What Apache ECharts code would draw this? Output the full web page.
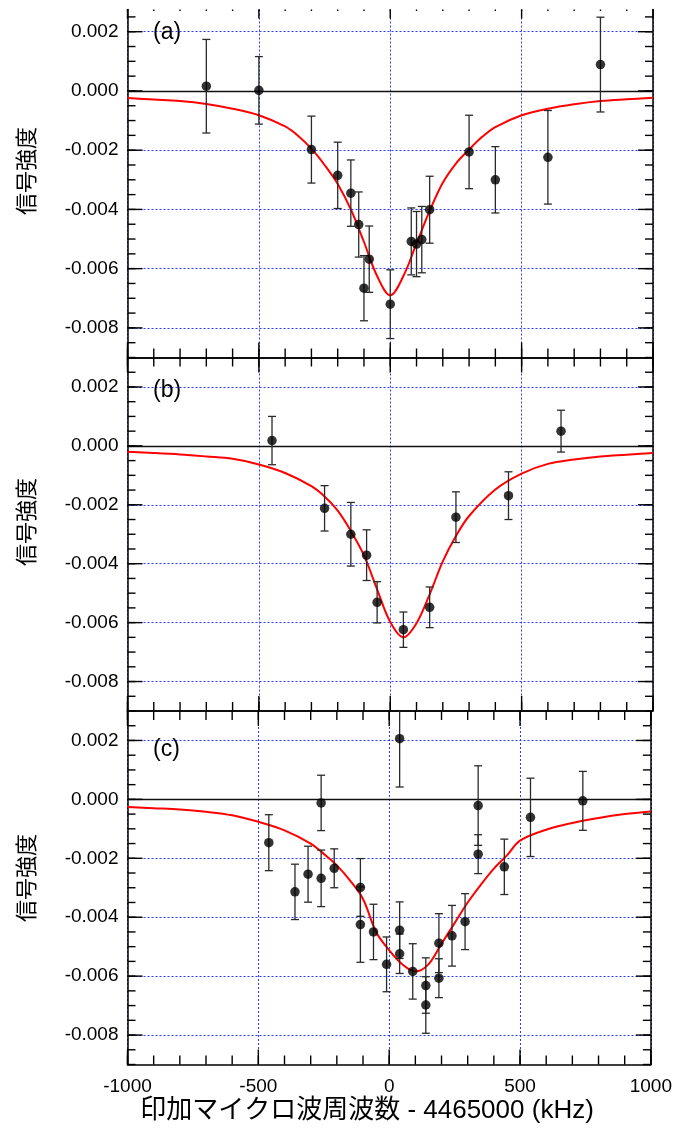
<!DOCTYPE html>
<html><head><meta charset="utf-8">
<script src="https://cdn.jsdelivr.net/npm/echarts@6/dist/echarts.min.js"></script>
<style>html,body{margin:0;padding:0;background:#fff}#c{width:675px;height:1138px}</style>
</head><body><div id="c"></div>
<script>
// ---- tick labels / axis values ----
const xTickValues = [-1000, -500, 0, 500, 1000];
const xMinorTicks = [-1000, -900, -800, -700, -600, -500, -400, -300, -200, -100, 0, 100, 200, 300, 400, 500, 600, 700, 800, 900, 1000];
const yTickValues = [-0.008, -0.006, -0.004, -0.002, 0, 0.002];
const yMinorTicks = [-0.009, -0.0085, -0.008, -0.0075, -0.007, -0.0065, -0.006, -0.0055, -0.005, -0.0045, -0.004, -0.0035, -0.003, -0.0025, -0.002, -0.0015, -0.001, -0.0005, 0, 0.0005, 0.001, 0.0015, 0.002, 0.0025];
const panelLabels = ['(a)', '(b)', '(c)'];
const yTitle = '信号強度';
const xTitle = '印加マイクロ波周波数 - 4465000 (kHz)';

// ---- panel (a) ----
const aX   = [-700, -500, -300, -200, -150, -120, -100, -80, 0, 80, 100, 120, 150, 300, 400, 600, 800];
const aY   = [0.00016, 0.00002, -0.00198, -0.00285, -0.00345, -0.00451, -0.00666, -0.00568, -0.0072, -0.00508, -0.00517, -0.00502, -0.00401, -0.00206, -0.0030, -0.00224, 0.00089];
const aErr = [0.00158, 0.00114, 0.00113, 0.00112, 0.00112, 0.0011, 0.0011, 0.00112, 0.00116, 0.00113, 0.0011, 0.00112, 0.00113, 0.00124, 0.00112, 0.00158, 0.0016];
const aFitX = [-1000, -900, -800, -700, -600, -500, -400, -350, -300, -250, -200, -150, -100, -50, 0, 50, 100, 150, 200, 250, 300, 350, 400, 500, 600, 700, 800, 900, 1000];
const aFitY = [-0.00024, -0.00029, -0.00034, -0.00044, -0.0006, -0.00082, -0.0012, -0.00152, -0.00195, -0.0025, -0.00314, -0.004, -0.0051, -0.00625, -0.0069, -0.00625, -0.00515, -0.00405, -0.0031, -0.00245, -0.00198, -0.00155, -0.00122, -0.00082, -0.0006, -0.00045, -0.00034, -0.00028, -0.00023];

// ---- panel (b) ----
const bX   = [-450, -250, -150, -90, -50, 50, 150, 250, 450, 650];
const bY   = [0.00018, -0.00212, -0.0030, -0.00371, -0.00531, -0.00624, -0.00548, -0.00242, -0.00169, 0.0005];
const bErr = [0.00082, 0.00077, 0.00108, 0.00086, 0.0007, 0.0006, 0.00069, 0.00086, 0.00081, 0.00071];
const bFitX = [-1000, -900, -800, -700, -600, -500, -400, -300, -250, -200, -150, -100, -50, 0, 50, 100, 150, 200, 250, 300, 400, 500, 600, 700, 800, 900, 1000];
const bFitY = [-0.0002, -0.00024, -0.00029, -0.00036, -0.00044, -0.00063, -0.00092, -0.00137, -0.00172, -0.0022, -0.00289, -0.00372, -0.00487, -0.00598, -0.0065, -0.00602, -0.00504, -0.00392, -0.00306, -0.00238, -0.00148, -0.00094, -0.00061, -0.00046, -0.00036, -0.0003, -0.00024];

// ---- panel (c) ----
const cX   = [-460, -360, -310, -260, -260, -210, -110, -110, -60, -10, 40, 40, 40, 90, 140, 140, 190, 190, 240, 290, 340, 340, 440, 540, 740];
const cY   = [-0.00147, -0.00314, -0.00254, -0.00012, -0.00268, -0.00234, -0.00299, -0.00425, -0.0045, -0.0056, 0.00206, -0.00444, -0.00524, -0.00584, -0.00632, -0.00698, -0.00488, -0.00607, -0.00463, -0.00415, -0.00021, -0.00186, -0.00229, -0.00061, -0.00005];
const cErr = [0.00095, 0.00094, 0.00095, 0.00094, 0.00096, 0.00066, 0.00098, 0.00128, 0.00094, 0.00093, 0.00164, 0.00096, 0.00067, 0.00094, 0.00094, 0.00096, 0.001, 0.00066, 0.00103, 0.00095, 0.00135, 0.00066, 0.00094, 0.00133, 0.001];
const cFitX = [-1000, -900, -800, -700, -600, -500, -400, -300, -250, -200, -150, -100, -50, 0, 50, 100, 150, 200, 250, 300, 350, 400, 450, 500, 600, 700, 800, 900, 1000];
const cFitY = [-0.00026, -0.0003, -0.00034, -0.00042, -0.00054, -0.00076, -0.00105, -0.0015, -0.00185, -0.00224, -0.00275, -0.00338, -0.0045, -0.00512, -0.0056, -0.00584, -0.0056, -0.0049, -0.0042, -0.0035, -0.0029, -0.00235, -0.0019, -0.0014, -0.00103, -0.0008, -0.00063, -0.0005, -0.00041];

const panels = [
  {x: aX, y: aY, e: aErr, fx: aFitX, fy: aFitY},
  {x: bX, y: bY, e: bErr, fx: bFitX, fy: bFitY},
  {x: cX, y: cY, e: cErr, fx: cFitX, fy: cFitY}
];

// ---- layout (style, not data) ----
const gridBoxes = [
  {top: 9.5, height: 348},
  {top: 357.5, height: 353.5},
  {top: 711, height: 353.5}
];
const X_MIN = -1000, X_MAX = 1000, Y_MIN = -0.009;
const yMaxes = [0.00275, 0.003, 0.003];
const labelY = [34, 392, 751];
const yTitleY = [171, 522, 878];
const FONT = "'Liberation Sans', Arial, sans-serif";
const GRIDCOL = '#2a3cff';
const GRIDDASH = [2, 2];
const TW = 1.4; // tick thickness

const grid = [], xAxis = [], yAxis = [], series = [], graphic = [];

function errRender(params, api) {
  const x = api.value(0), lo = api.value(1), hi = api.value(2);
  const pHi = api.coord([x, hi]), pLo = api.coord([x, lo]);
  const cs = params.coordSys;
  const top = cs.y, bot = cs.y + cs.height;
  const y1 = Math.max(pHi[1], top), y2 = Math.min(pLo[1], bot);
  const st = {stroke: '#2a2a2a', lineWidth: 1.3};
  const ch = [{type: 'line', shape: {x1: pHi[0], y1: y1, x2: pHi[0], y2: y2}, style: st}];
  const w = 4;
  if (pHi[1] >= top) ch.push({type: 'line', shape: {x1: pHi[0] - w, y1: pHi[1], x2: pHi[0] + w, y2: pHi[1]}, style: st});
  if (pLo[1] <= bot) ch.push({type: 'line', shape: {x1: pLo[0] - w, y1: pLo[1], x2: pLo[0] + w, y2: pLo[1]}, style: st});
  return {type: 'group', children: ch};
}

// tick marks drawn as thin rect symbols anchored on the frame through the axes' scales
function tickSeries(xi, yi, data, w, h, off) {
  return {type: 'scatter', xAxisIndex: xi, yAxisIndex: yi, data: data, symbol: 'rect',
    symbolSize: [w, h], symbolOffset: off, clip: false, silent: true, zlevel: 1, z: 20,
    itemStyle: {color: '#000', opacity: 1}, emphasis: {disabled: true}, animation: false};
}

panels.forEach((p, i) => {
  grid.push({left: 127.5, width: 525.5, top: gridBoxes[i].top, height: gridBoxes[i].height});
  const line = {show: true, onZero: false, lineStyle: {color: '#000', width: 1.5}};
  const noLine = {show: false, onZero: false};
  const isA = i === 0;
  const ymax = yMaxes[i];
  xAxis.push({gridIndex: i, type: 'value', position: 'bottom', min: X_MIN, max: X_MAX, interval: 500,
    axisLine: line, axisTick: {show: false},
    axisLabel: {show: i === 2, margin: 13, fontSize: 19, color: '#000', fontFamily: FONT, formatter: v => String(v)},
    splitLine: {show: true, lineStyle: {color: GRIDCOL, type: GRIDDASH, width: 1}}});
  xAxis.push({gridIndex: i, type: 'value', position: 'top', min: X_MIN, max: X_MAX, interval: 500,
    axisLine: isA ? noLine : line, axisTick: {show: false}, axisLabel: {show: false}, splitLine: {show: false}});
  yAxis.push({gridIndex: i, type: 'value', position: 'left', min: Y_MIN, max: ymax,
    axisLine: line,
    axisTick: {show: false, customValues: yTickValues},
    axisLabel: {show: true, customValues: yTickValues, margin: 9, fontSize: 19, color: '#000', fontFamily: FONT, formatter: v => v.toFixed(3)},
    splitLine: {show: true, lineStyle: {color: GRIDCOL, type: GRIDDASH, width: 1}}});
  yAxis.push({gridIndex: i, type: 'value', position: 'right', min: Y_MIN, max: ymax,
    axisLine: line, axisTick: {show: false}, axisLabel: {show: false}, splitLine: {show: false}});

  const xi = 2 * i, yi = 2 * i;
  // zero line
  series.push({type: 'line', xAxisIndex: xi, yAxisIndex: yi, data: [], z: 3,
    markLine: {silent: true, symbol: 'none', label: {show: false}, animation: false,
      lineStyle: {color: '#111', type: 'solid', width: 1.4}, data: [{yAxis: 0}]}});
  // fit curve
  series.push({type: 'line', xAxisIndex: xi, yAxisIndex: yi, z: 4,
    data: p.fx.map((v, k) => [v, p.fy[k]]), showSymbol: false, smooth: 0.35,
    lineStyle: {color: '#ff0000', width: 2}, animation: false});
  // error bars
  series.push({type: 'custom', xAxisIndex: xi, yAxisIndex: yi, z: 5,
    data: p.x.map((v, k) => [v, p.y[k] - p.e[k], p.y[k] + p.e[k]]),
    renderItem: errRender, animation: false});
  // points
  series.push({type: 'scatter', xAxisIndex: xi, yAxisIndex: yi, z: 6,
    data: p.x.map((v, k) => [v, p.y[k]]), symbol: 'circle', symbolSize: 9.5,
    itemStyle: {color: '#000'}, animation: false});

  // ticks: bottom (pointing up), top (pointing down), left (pointing right), right (pointing left)
  const yTicksIn = yMinorTicks.filter(v => v <= ymax);
  series.push(tickSeries(xi, yi, xMinorTicks.map(v => [v, Y_MIN]), TW, 9, [0, -4.5]));
  series.push(tickSeries(xi, yi, xTickValues.map(v => [v, Y_MIN]), TW, 15, [0, -7.5]));
  const tMin = isA ? 1.5 : 9, tMaj = isA ? 9 : 15;
  series.push(tickSeries(xi, yi, xMinorTicks.map(v => [v, ymax]), TW, tMin, [0, tMin / 2]));
  series.push(tickSeries(xi, yi, xTickValues.map(v => [v, ymax]), TW, tMaj, [0, tMaj / 2]));
  series.push(tickSeries(xi, yi, yTicksIn.map(v => [X_MIN, v]), 8, TW, [4, 0]));
  series.push(tickSeries(xi, yi, yTickValues.map(v => [X_MIN, v]), 15, TW, [7.5, 0]));
  series.push(tickSeries(xi, yi, yTicksIn.map(v => [X_MAX, v]), 8, TW, [-4, 0]));
  series.push(tickSeries(xi, yi, yTickValues.map(v => [X_MAX, v]), 15, TW, [-7.5, 0]));

  graphic.push({type: 'text', left: 153, top: labelY[i] - 13, z: 100,
    style: {text: panelLabels[i], font: '23px ' + FONT, fill: '#000'}});
  graphic.push({type: 'text', x: 26, y: yTitleY[i], rotation: Math.PI / 2, z: 100,
    style: {text: yTitle, font: "22px 'Noto Sans CJK JP'", fill: '#000', align: 'center', verticalAlign: 'middle'}});
});

graphic.push({type: 'text', x: 367, y: 1111, z: 100,
  style: {text: xTitle, font: "26px 'Liberation Sans', 'Noto Sans CJK JP', sans-serif", fill: '#000', align: 'center', verticalAlign: 'middle'}});

const chart = echarts.init(document.getElementById('c'), null, {renderer: 'canvas'});
chart.setOption({animation: false, backgroundColor: '#fff', grid, xAxis, yAxis, series, graphic});
</script>
</body></html>
